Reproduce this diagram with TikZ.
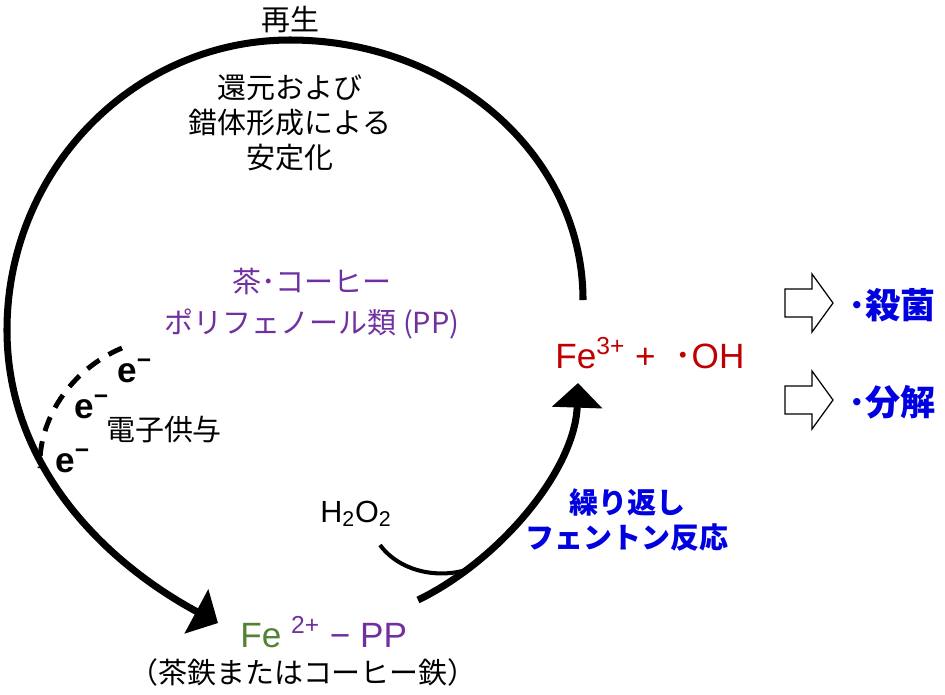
\documentclass[tikz,border=0pt]{standalone}
\usepackage{fontspec}
\setmainfont{Liberation Sans}
\newfontfamily\jp{Noto Sans CJK JP}
\usetikzlibrary{arrows.meta}

\definecolor{ppPurple}{HTML}{7030A0}
\definecolor{ohRed}{HTML}{C00000}
\definecolor{feGreen}{HTML}{548235}
\definecolor{actBlue}{HTML}{0000E0}

\tikzset{
  jptext/.style={font=\jp\fontsize{16.5}{19.8}\selectfont, align=center, inner sep=0pt},
  chem/.style={font=\fontsize{20}{24}\selectfont, inner sep=0pt, anchor=base west},
  eminus/.style={font=\bfseries\fontsize{20}{24}\selectfont, inner sep=0pt, anchor=base west},
  loopline/.style={line width=4pt},
  hollow/.style={draw, line width=0.7pt, fill=white, line join=miter}
}

\begin{document}
\begin{tikzpicture}[x=0.02cm, y=-0.02cm, >={Triangle[length=14pt,width=28pt]}]
  \useasboundingbox (0,0) rectangle (945,694);

  % texts
  \node[jptext] (regen) at (290,20) {再生};
  \node[jptext] (stab) at (290,123) {還元および\\錯体形成による\\安定化};
  \node[jptext, text=ppPurple] (pp) at (312,304) {茶･コーヒー\\[3.5pt]ポリフェノール類 (PP)};
  \node[jptext] (edon) at (164,429) {電子供与};
  \node[eminus] (e1) at (117,382) {e\textsuperscript{−}};
  \node[eminus] (e2) at (74,418) {e\textsuperscript{−}};
  \node[eminus] (e3) at (55,472) {e\textsuperscript{−}};

  \node[chem] (fe2) at (240,647)
    {\textcolor{feGreen}{Fe} \textcolor{ppPurple}{\textsuperscript{2+} − PP}};
  \node[jptext] (tea) at (303,672) {（茶鉄またはコーヒー鉄）};
  \node[chem, font=\fontsize{17.4}{20}\selectfont] (hoo) at (320,522)
    {H\textsubscript{2}O\textsubscript{2}};
  \node[jptext, text=actBlue, font=\jp\bfseries\fontsize{16.5}{19.8}\selectfont]
    (fenton) at (627,520) {繰り返し\\フェントン反応};
  \node[chem, text=ohRed] (fe3) at (555,368)
    {Fe\textsuperscript{3+} + \hspace{5pt}{\jp ･}OH};

  \node[jptext, text=actBlue, font=\jp\bfseries\fontsize{20}{24}\selectfont]
    (kill) at (892,305) {･殺菌};
  \node[jptext, text=actBlue, font=\jp\bfseries\fontsize{20}{24}\selectfont]
    (decomp) at (892,402) {･分解};

  % regeneration loop
  \coordinate (loopStart) at (583,300);
  \coordinate (loopEnd) at (218,623);
  \draw[loopline, ->] (loopStart)
    .. controls (583,156) and (452,40) .. (290,40)
    .. controls (134,40) and (7,170) .. (7,330)
    .. controls (7,470) and (110,565) .. (loopEnd);

  % electron donation
  \draw[line width=2.8pt, dash pattern=on 8.5pt off 6pt]
    (122,348) .. controls (70,370) and (38,420) .. (40,468);

  % Fenton reaction
  \coordinate (fentonStart) at (418,600);
  \coordinate (fentonEnd) at (578,383);
  \draw[loopline, ->] (fentonStart)
    .. controls (500,560) and (575,470) .. (fentonEnd);
  \coordinate (hooStart) at (380,545);
  \coordinate (hooJoin) at (472,568);
  \draw[line width=2.3pt] (hooStart)
    .. controls (400,572) and (440,580) .. (hooJoin);

  % result arrows
  \foreach \y in {303,400}
    \draw[hollow] (785,{\y-14}) -- (812,{\y-14}) -- (812,{\y-29}) -- (833,\y)
      -- (812,{\y+29}) -- (812,{\y+14}) -- (785,{\y+14}) -- cycle;
\end{tikzpicture}
\end{document}
